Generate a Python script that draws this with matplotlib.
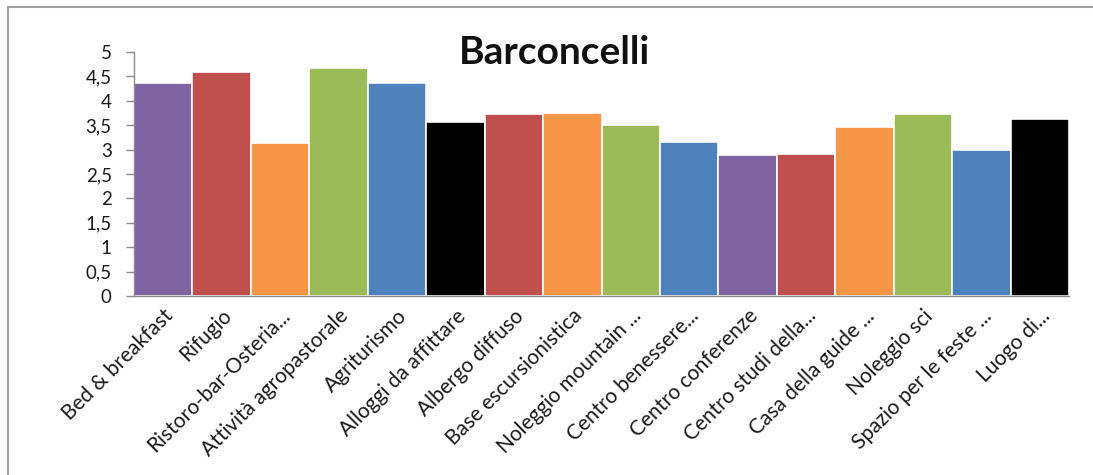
import matplotlib
matplotlib.use("Agg")
import matplotlib.pyplot as plt
from matplotlib.lines import Line2D
from matplotlib.ticker import FuncFormatter, MultipleLocator
from matplotlib.transforms import ScaledTranslation

categories = [
    "Bed & breakfast", "Rifugio", "Ristoro-bar-Osteria...", "Attività agropastorale",
    "Agriturismo", "Alloggi da affittare", "Albergo diffuso", "Base escursionistica",
    "Noleggio mountain ...", "Centro benessere...", "Centro conferenze",
    "Centro studi della...", "Casa della guide ...", "Noleggio sci",
    "Spazio per le feste ...", "Luogo di...",
]
values = [4.36, 4.59, 3.14, 4.68, 4.36, 3.57, 3.72, 3.75,
          3.50, 3.15, 2.89, 2.90, 3.46, 3.72, 3.00, 3.62]
colors = ["#8064A2", "#C0504D", "#F79646", "#9BBB59", "#4F81BD", "#000000",
          "#C0504D", "#F79646", "#9BBB59", "#4F81BD", "#8064A2", "#C0504D",
          "#F79646", "#9BBB59", "#4F81BD", "#000000"]

plt.rcParams["font.family"] = ["Lato", "DejaVu Sans"]

W, H = 1093, 475
fig = plt.figure(figsize=(W / 100, H / 100), dpi=100)
fig.patch.set_facecolor("white")

# plot area in pixel coordinates
left, right, top, bottom = 134, 1069, 52, 296
ax = fig.add_axes([left / W, 1 - bottom / H, (right - left) / W, (bottom - top) / H])

x = range(len(values))
ax.bar(x, values, width=1.0, color=colors, edgecolor="white", linewidth=1.2)

ax.set_xlim(-0.5, len(values) - 0.5)
ax.set_ylim(0, 5)
ax.yaxis.set_major_locator(MultipleLocator(0.5))
ax.yaxis.set_major_formatter(FuncFormatter(lambda v, p: f"{v:g}".replace(".", ",")))

ax.set_xticks(list(x))
ax.set_xticklabels(categories, rotation=45, ha="right", rotation_mode="anchor",
                   fontsize=15, color="#1a1a1a")
shift = ScaledTranslation(-6 / 100, 0, fig.dpi_scale_trans)
for lbl in ax.get_xticklabels():
    lbl.set_transform(lbl.get_transform() + shift)
ax.tick_params(axis="x", length=0, pad=7)
ax.tick_params(axis="y", length=6, width=1, color="#8c8c8c", labelsize=13.5,
               labelcolor="#1a1a1a", pad=10)

for s in ("top", "right"):
    ax.spines[s].set_visible(False)
for s in ("left", "bottom"):
    ax.spines[s].set_color("#8c8c8c")
    ax.spines[s].set_linewidth(1)

fig.text(554 / W, 1 - 53 / H, "Barconcelli", fontsize=28, fontweight="bold",
         ha="center", va="center", color="#111111")

# chart area frame (top and left edges visible)
fig.add_artist(Line2D([8 / W, 1.0], [1 - 6.5 / H, 1 - 6.5 / H], color="#a0a0a0", lw=1.5))
fig.add_artist(Line2D([8 / W, 8 / W], [0.0, 1 - 6.5 / H], color="#a0a0a0", lw=1.5))

fig.savefig("out.png", dpi=100, facecolor="white")
